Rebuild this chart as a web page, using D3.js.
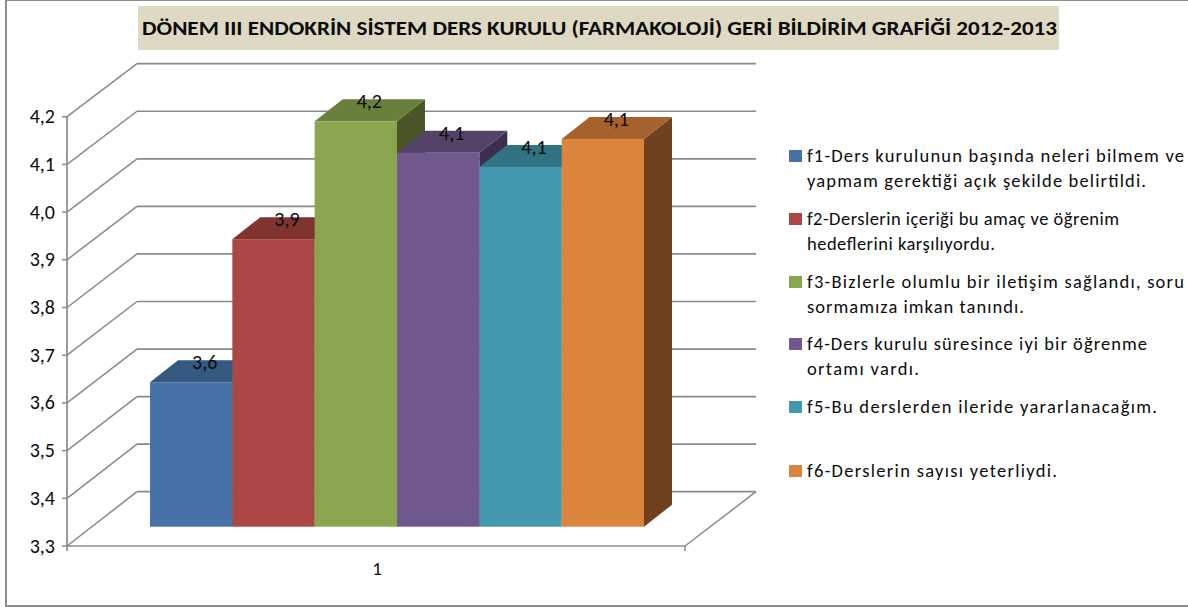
<!DOCTYPE html>
<html><head><meta charset="utf-8">
<script src="https://cdn.jsdelivr.net/npm/d3@7"></script>
<style>html,body{margin:0;padding:0;background:#fff}svg{display:block}text{font-family:Carlito,Lato,"Open Sans",sans-serif;fill:#0c0c0c}</style>
</head><body><svg id="c" width="1188" height="607"></svg>
<script>
const titleText = "DÖNEM III ENDOKRİN SİSTEM DERS KURULU (FARMAKOLOJİ) GERİ BİLDİRİM GRAFİĞİ 2012-2013";
const seriesNames = ["f1","f2","f3","f4","f5","f6"];
const seriesValues = [3.604,3.905,4.153,4.087,4.057,4.116];
const seriesLabels = ["3,6","3,9","4,2","4,1","4,1","4,1"];
const frontColors = ["#4672A7","#AA4643","#89A54E","#71588F","#4198AF","#DB843D"];
const topColors = ["#345880","#80332F","#68803B","#554268","#317283","#A6622D"];
const sideColors = ["#27415F","#5C2422","#4A5529","#3C2F4D","#235463","#6F421F"];
const tickValues = [3.3,3.4,3.5,3.6,3.7,3.8,3.9,4.0,4.1,4.2];
const categoryLabels = ["1"];
const legendLines = [
 ["f1-Ders kurulunun başında neleri bilmem ve","yapmam gerektiği açık şekilde belirtildi."],
 ["f2-Derslerin içeriği bu amaç ve öğrenim","hedeflerini karşılıyordu."],
 ["f3-Bizlerle olumlu bir iletişim sağlandı, soru","sormamıza imkan tanındı."],
 ["f4-Ders kurulu süresince iyi bir öğrenme","ortamı vardı."],
 ["f5-Bu derslerden ileride yararlanacağım."],
 ["f6-Derslerin sayısı yeterliydi."]];
const legendBaselines = [[162,187],[225,250],[288,313],[350,375],[413],[477]];
const legendWidths = [[377,339],[312,188],[377,217],[340,112],[350],[250]];

const svg = d3.select("#c");
const grid = "#8a8a8a";
// frame
svg.append("rect").attr("x",6).attr("y",0).attr("width",1190).attr("height",606).attr("fill","#fff").attr("stroke","#8e8e8e").attr("stroke-width",2);
// title
svg.append("rect").attr("x",138).attr("y",6).attr("width",921).attr("height",44).attr("fill","#DDD9C3");
svg.append("text").attr("x",142).attr("y",35).attr("font-size",21).attr("font-weight",700).attr("textLength",915).attr("lengthAdjust","spacingAndGlyphs").text(titleText);

// scales: front plane of the box
const yFront = d3.scaleLinear().domain([3.3,4.2]).range([546,116.7]);
const yBack = d3.scaleLinear().domain([3.3,4.2]).range([491.7,63.7]);
const yBar = d3.scaleLinear().domain([3.3,4.2]).range([526.7,99]);
const xBar = d3.scaleBand().domain(seriesNames).range([150,644]);
const xFloor = d3.scaleLinear().domain([0,1]).range([67,685]);
const depthX = 70, depthBarX = 28, depthBarY = 22;

// walls
const g = svg.append("g").attr("fill","none").attr("stroke",grid);
tickValues.forEach(v=>{
  g.append("line").attr("x1",xFloor(0)).attr("y1",yFront(v)).attr("x2",xFloor(0)+depthX).attr("y2",yBack(v)).attr("stroke-width",1.5);
  g.append("line").attr("x1",xFloor(0)+depthX).attr("y1",yBack(v)).attr("x2",xFloor(1)+depthX+1).attr("y2",yBack(v)).attr("stroke-width",1.7);
  g.append("line").attr("x1",xFloor(0)-5).attr("y1",yFront(v)).attr("x2",xFloor(0)).attr("y2",yFront(v)).attr("stroke-width",1.5);
});
g.append("line").attr("x1",xFloor(0)).attr("y1",yFront(4.2)).attr("x2",xFloor(0)).attr("y2",yFront(3.3)+5).attr("stroke-width",1.7);
g.append("line").attr("x1",xFloor(0)).attr("y1",yFront(3.3)).attr("x2",xFloor(1)).attr("y2",yFront(3.3)).attr("stroke-width",1.7);
g.append("line").attr("x1",xFloor(1)).attr("y1",yFront(3.3)).attr("x2",xFloor(1)).attr("y2",yFront(3.3)+5).attr("stroke-width",1.5);
g.append("line").attr("x1",xFloor(1)).attr("y1",yFront(3.3)).attr("x2",xFloor(1)+depthX+1).attr("y2",yBack(3.3)).attr("stroke-width",1.5);

// axis labels
svg.append("g").selectAll("text").data(tickValues).join("text")
  .attr("x",55).attr("y",d=>yFront(d)+6.5).attr("text-anchor","end").attr("font-size",20)
  .text(d=>d.toFixed(1).replace(".",","));
svg.append("text").attr("x",377).attr("y",575).attr("text-anchor","middle").attr("font-size",19).text(categoryLabels[0]);

// bars
const line = d3.line();
seriesNames.forEach((s,i)=>{
  const x0=xBar(s), x1=x0+xBar.bandwidth(), yb=yBar(3.3), yt=yBar(seriesValues[i]);
  const dx=depthBarX, dy=depthBarY;
  svg.append("path").attr("fill",sideColors[i]).attr("d",line([[x1,yt],[x1+dx,yt-dy],[x1+dx,yb-dy],[x1,yb]])+"Z");
  svg.append("path").attr("fill",topColors[i]).attr("d",line([[x0,yt],[x0+dx,yt-dy],[x1+dx,yt-dy],[x1,yt]])+"Z");
  svg.append("rect").attr("x",x0).attr("y",yt).attr("width",x1-x0).attr("height",yb-yt).attr("fill",frontColors[i]);
});
seriesNames.forEach((s,i)=>{
  svg.append("text").attr("x",xBar(s)+xBar.bandwidth()/2+13.5).attr("y",yBar(seriesValues[i])-depthBarY+9)
    .attr("text-anchor","middle").attr("font-size",20).text(seriesLabels[i]);
});

// legend
legendLines.forEach((ls,i)=>{
  svg.append("rect").attr("x",789).attr("y",legendBaselines[i][0]-12).attr("width",13).attr("height",12).attr("fill",frontColors[i]);
  ls.forEach((t,j)=>{
    svg.append("text").attr("x",807).attr("y",legendBaselines[i][j]).attr("font-size",18.5).attr("textLength",legendWidths[i][j]).attr("lengthAdjust","spacing").text(t);
  });
});
</script></body></html>
